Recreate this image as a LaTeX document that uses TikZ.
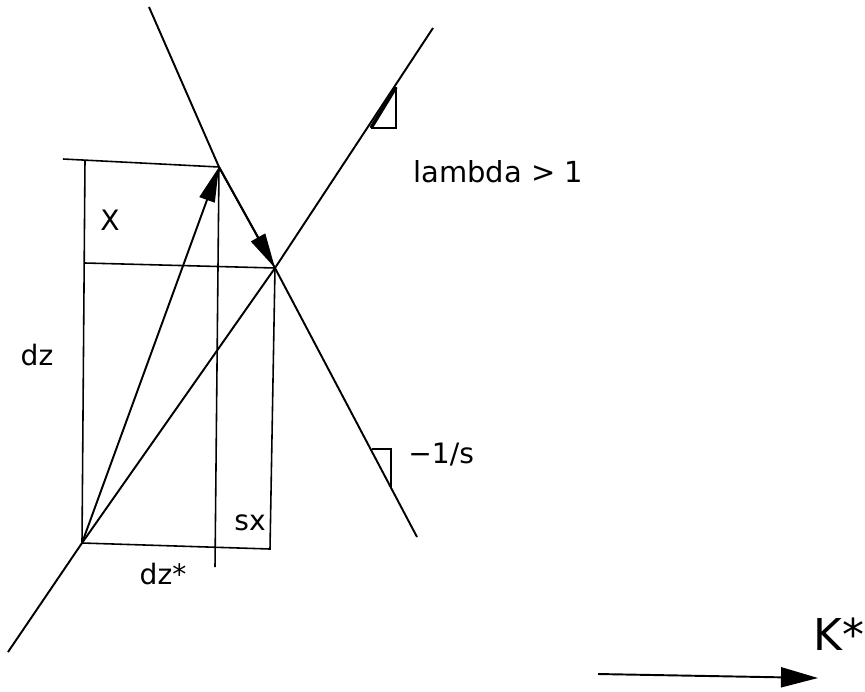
\documentclass[tikz,border=0pt]{standalone}
\usepackage{fontspec}
\setmainfont{DejaVu Sans}
\usetikzlibrary{arrows.meta}

\begin{document}
\begin{tikzpicture}[
  x=0.02cm, y=-0.02cm,
  every node/.style={font=\fontsize{16}{18}\selectfont, inner sep=0pt},
  schedule/.style={draw, line width=1.1pt},
  guide/.style={draw, line width=0.9pt},
  move/.style={draw, line width=1.1pt, -{Triangle[length=0.7cm, width=0.32cm]}},
  slopebox/.style={draw, line width=0.9pt, line join=miter}
]
\useasboundingbox (0,0) rectangle (865,691);

% the two schedules and where they meet
\coordinate (Ltop) at (149,7);
\coordinate (Lbot) at (417,537);
\coordinate (Rtop) at (433,28);
\coordinate (Rbot) at (8,652);
\coordinate (B) at (82,543);
\coordinate (P) at (219,167);
\coordinate (Q) at (275,268);

% the frame of guide lines
\coordinate (Pw) at (63,159);
\coordinate (Lv) at (85,160);
\coordinate (Qw) at (85,263);
\coordinate (Pb) at (215,567);
\coordinate (Qb) at (270,549);

% slope marks
\coordinate (ra) at (371,128);
\coordinate (rb) at (396,128);
\coordinate (rc) at (396,87);
\coordinate (la) at (372,449);
\coordinate (lb) at (391,449);
\coordinate (lc) at (391,487);

% direction arrow
\coordinate (ka) at (598,674);
\coordinate (kb) at (818,678);

\draw[schedule] (Ltop) -- (P) -- (Q) -- (Lbot);
\draw[schedule] (Rbot) -- (B) -- (Q) -- (Rtop);

\draw[guide] (Pw) -- (P);
\draw[guide] (Qw) -- (Q);
\draw[guide] (Lv) -- (B) -- (Qb) -- (Q);
\draw[guide] (P) -- (Pb);

\draw[move] (B) -- (P);
\draw[move] (P) -- (Q);

\draw[slopebox] (ra) -- (rb) -- (rc);
\draw[line width=2pt] (ra) -- (rc);
\draw[slopebox] (la) -- (lb) -- (lc);

\draw[line width=1.1pt, -{Triangle[length=0.74cm, width=0.4cm]}] (ka) -- (kb);

\node (lam) [anchor=base west, font=\fontsize{16.5}{18}\selectfont] at (413,182) {lambda > 1};
\node (slp) [anchor=base west] at (408,463) {−1/s};
\node (xx) [anchor=base] at (110,230) {X};
\node (dz) [anchor=base] at (37,365) {dz};
\node (sx) [anchor=base] at (250,530) {sx};
\node (dzs) [anchor=base] at (163,584) {dz*};
\node (ks) [anchor=base, font=\fontsize{25}{28}\selectfont] at (839,650) {K*};
\end{tikzpicture}
\end{document}
